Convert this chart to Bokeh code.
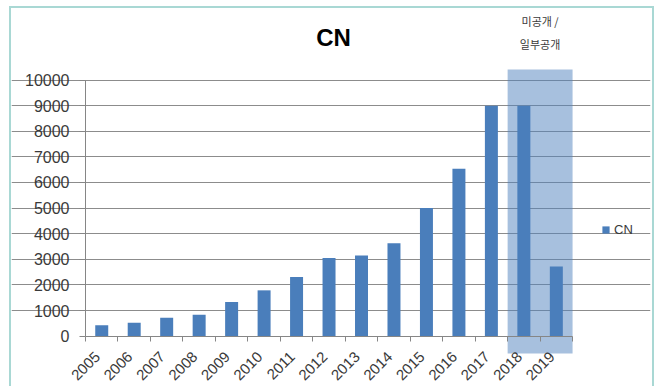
import math
import numpy as np
from bokeh.plotting import figure
from bokeh.models import (Range1d, FixedTicker, Legend, LegendItem, Label,
                          LinearAxis)
from bokeh.embed import file_html
from bokeh.resources import INLINE

# Yearly counts for CN
years = ["2005", "2006", "2007", "2008", "2009", "2010", "2011", "2012",
         "2013", "2014", "2015", "2016", "2017", "2018", "2019"]
counts = [430, 530, 720, 840, 1340, 1790, 2310, 3050,
          3150, 3630, 5000, 6540, 9000, 9000, 2720]
y_ticks = [0, 1000, 2000, 3000, 4000, 5000, 6000, 7000, 8000, 9000, 10000]
# years whose data is not yet (fully) published
partial_years = ["2018", "2019"]
partial_note = ["미공개 /", "일부공개"]

BAR = "#4A7EBB"
GRID = "#8C8C8C"
AXIS = "#868686"
TXT = "#3A3A3A"
FONT = "Liberation Sans"

n = len(years)
centers = np.arange(n) + 0.5
boundaries = list(np.arange(n + 1).astype(float))
# slanted year labels end at their category centre
label_pos = [round(float(c) - 0.13, 2) for c in centers]

# The frame covers the whole chart area so that the title, note, legend and
# axis labels all live inside it; axes/grid are bounded to the data block.
p = figure(frame_width=639, frame_height=378, output_backend="svg",
           toolbar_location=None,
           x_range=Range1d(-2.279, 17.4), y_range=Range1d(-1963, 12791),
           min_border_left=0, min_border_right=2, min_border_top=0,
           min_border_bottom=0,
           margin=(8, 0, 0, 11),
           styles={"outline": "2px solid #A9D8D4"})
p.outline_line_color = None
p.background_fill_color = "white"
p.border_fill_color = "white"

# shaded block behind the partially published years
i0 = years.index(partial_years[0])
i1 = years.index(partial_years[-1]) + 1
p.quad(left=i0, right=i1, bottom=-675, top=10410,
       fill_color="#4F81BD", fill_alpha=0.5, line_color=None)

bars = p.vbar(x=centers, top=counts, width=0.4, fill_color=BAR, line_color=None)

# y axis on the left edge of the category block
p.yaxis.fixed_location = 0
p.yaxis.ticker = FixedTicker(ticks=y_ticks)
p.yaxis.bounds = (y_ticks[0], y_ticks[-1])
p.yaxis.axis_line_color = AXIS
p.yaxis.major_tick_line_color = AXIS
p.yaxis.major_tick_out = 6
p.yaxis.major_tick_in = 0
p.yaxis.minor_tick_line_color = None
p.yaxis.major_label_text_font = FONT
p.yaxis.major_label_text_font_size = "16px"
p.yaxis.major_label_text_color = TXT
p.yaxis.major_label_standoff = 10

p.ygrid.ticker = FixedTicker(ticks=y_ticks[1:])
p.ygrid.bounds = (0, n)
p.ygrid.grid_line_color = GRID
p.ygrid.grid_line_width = 1
p.xgrid.grid_line_color = None

# x axis line on the zero level, tick marks between categories
p.xaxis.fixed_location = 0
p.xaxis.ticker = FixedTicker(ticks=[], minor_ticks=boundaries)
p.xaxis.bounds = (0, n)
p.xaxis.axis_line_color = AXIS
p.xaxis.major_tick_line_color = None
p.xaxis.minor_tick_line_color = AXIS
p.xaxis.minor_tick_out = 5
p.xaxis.minor_tick_in = 0

# slanted year labels
year_axis = LinearAxis(fixed_location=0,
                       ticker=FixedTicker(ticks=label_pos),
                       major_label_overrides={x: y for x, y in zip(label_pos, years)},
                       axis_line_color=None, major_tick_line_color=None,
                       minor_tick_line_color=None,
                       major_label_orientation=math.pi / 4,
                       major_label_text_font=FONT,
                       major_label_text_font_size="15px",
                       major_label_text_color=TXT,
                       major_label_standoff=12)
p.add_layout(year_axis, "below")

# title
p.add_layout(Label(x=7.64, y=11640, text="CN", text_align="center",
                   text_baseline="middle", text_font=FONT,
                   text_font_size="24px", text_font_style="bold",
                   text_color="black"))

# note above the shaded block
for txt, yv in zip(partial_note, [12300, 11390]):
    p.add_layout(Label(x=(i0 + i1) / 2, y=yv, text=txt, text_align="center",
                       text_baseline="middle", text_font="Noto Sans CJK KR",
                       text_font_size="11px", text_color=TXT))

legend = Legend(items=[LegendItem(label="CN", renderers=[bars])],
                location=(590, 149), orientation="vertical",
                glyph_width=9, glyph_height=9, label_text_font=FONT,
                label_text_font_size="13px", label_text_color=TXT,
                label_standoff=4, padding=0, margin=0, spacing=0,
                border_line_color=None, background_fill_alpha=0)
p.add_layout(legend, "center")

open("out.html", "w").write(file_html(p, INLINE))
